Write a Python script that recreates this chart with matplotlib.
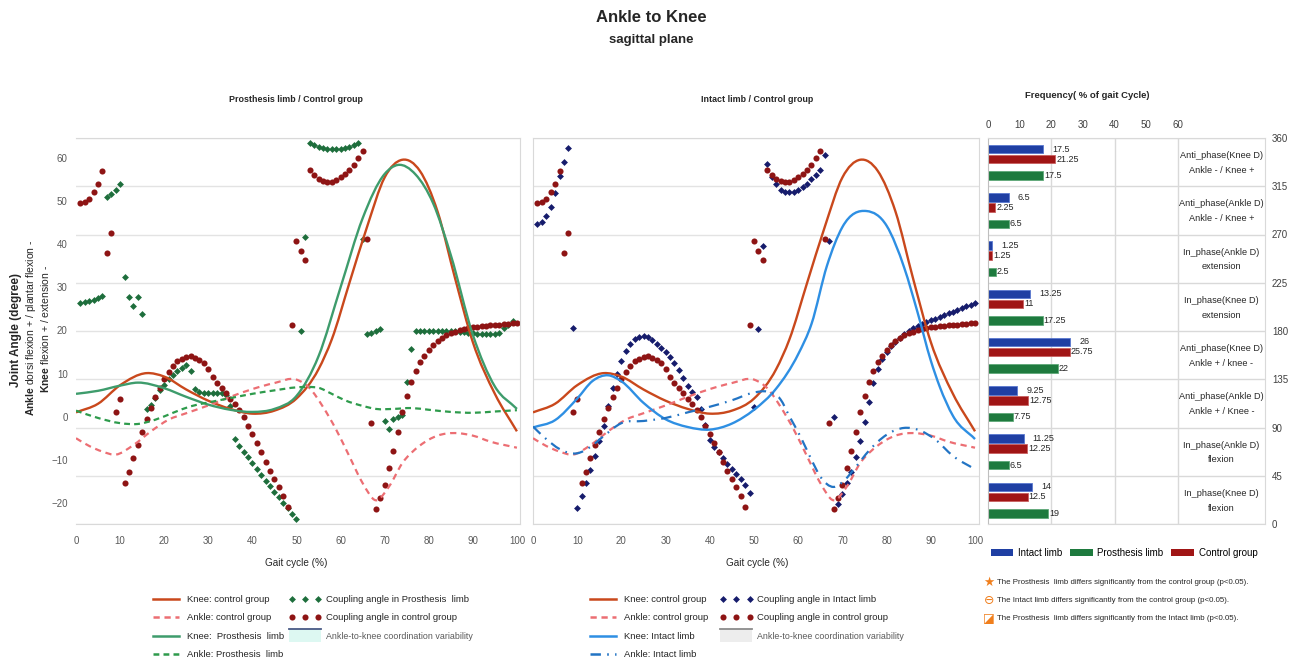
import numpy as np
import matplotlib
matplotlib.use('Agg')
import matplotlib.pyplot as plt
from matplotlib.path import Path
from matplotlib.patches import PathPatch, Patch, Rectangle
from matplotlib.lines import Line2D

plt.rcParams['lines.scale_dashes'] = False
SANS = ['Liberation Sans', 'DejaVu Sans']
plt.rcParams['font.family'] = SANS
plt.rcParams['mathtext.fontset'] = 'custom'
plt.rcParams['mathtext.rm'] = 'Liberation Sans'
plt.rcParams['mathtext.bf'] = 'Liberation Sans:bold'

# ---- joint angle curves (degrees) read at selected % of gait cycle ----
knee_ctrl_x = [0, 5, 10, 16, 20, 25, 30, 35, 40, 45, 50, 55, 58, 62, 66, 70, 74, 78, 82, 86, 90, 95, 100]
knee_ctrl_y = [1.0, 3.0, 7.3, 10.1, 9.3, 6.3, 3.7, 1.8, 0.7, 1.4, 4.2, 11.0, 17.9, 31.0, 44.0, 55.5, 59.6,
               57.0, 47.6, 32.0, 17.3, 5.3, -3.4]
ankle_ctrl_x = [0, 3, 6, 9, 13, 17, 21, 25, 30, 35, 40, 45, 50, 53, 56, 59, 62, 65, 68, 71, 74, 78, 82, 86,
                90, 94, 100]
ankle_ctrl_y = [-5.0, -6.8, -8.1, -8.8, -6.6, -3.4, -0.7, 0.8, 2.6, 4.6, 6.4, 7.8, 8.6, 6.6, 2.3, -3.0, -9.2,
                -15.4, -19.4, -16.2, -10.8, -6.7, -4.4, -3.8, -4.4, -5.8, -7.2]
knee_pros_x = [0, 5, 10, 14, 20, 25, 30, 35, 40, 45, 50, 55, 60, 65, 70, 73, 77, 81, 85, 90, 95, 100]
knee_pros_y = [5.3, 6.0, 7.2, 7.9, 6.6, 4.6, 2.8, 1.6, 1.1, 1.8, 4.8, 14.0, 30.0, 46.0, 56.3, 58.4, 56.2,
               49.5, 37.5, 19.0, 7.0, 1.8]
ankle_pros_x = [0, 5, 10, 14, 18, 22, 26, 30, 35, 40, 45, 50, 53, 55, 58, 61, 65, 68, 72, 76, 80, 85, 90,
                95, 100]
ankle_pros_y = [1.4, -0.3, -1.5, -1.7, -0.7, 0.9, 2.4, 3.3, 4.3, 5.3, 6.1, 6.8, 6.9, 6.7, 5.3, 3.8, 2.5,
                1.8, 1.8, 2.0, 1.6, 1.1, 0.9, 1.2, 1.5]
knee_int_x = [0, 5, 10, 13.5, 17, 20, 25, 30, 35, 40, 45, 50, 55, 60, 63, 66.5, 70, 75.5, 80, 84, 87, 90,
              92, 95, 100]
knee_int_y = [-2.5, -0.8, 4.2, 8.3, 9.6, 8.2, 3.2, -0.6, -2.4, -3.0, -1.6, 1.6, 6.5, 14.5, 21.5, 35.0,
              44.0, 47.7, 44.3, 34.5, 24.2, 13.0, 7.0, 0.2, -5.2]
ankle_int_x = [0, 3, 6, 10, 13, 16, 20, 25, 30, 35, 40, 45, 50, 53, 56, 58, 60.5, 63, 65, 68, 70, 73, 76,
               80, 84, 87, 91, 95, 100]
ankle_int_y = [-2.3, -5.2, -7.5, -8.5, -7.0, -4.5, -1.5, -1.0, -0.3, 1.0, 2.3, 3.8, 5.6, 5.8, 4.0, 0.1,
               -4.6, -10.0, -13.9, -16.3, -15.2, -11.7, -7.9, -4.2, -2.6, -3.0, -5.3, -9.1, -12.2]

# ---- coupling angles (0-360 deg), one value per 1 % of gait cycle ----
coup_ctrl = [299.1, 300.3, 303.5, 309.9, 317.5, 328.8, 252.6, 271.0, 104.6, 116.2,
             38.0, 48.9, 61.7, 73.7, 86.2, 97.8, 108.6, 118.6, 126.7, 135.1,
             141.5, 147.5, 151.9, 154.3, 156.0, 156.3, 155.1, 153.1, 149.9, 144.3,
             137.5, 131.9, 126.7, 121.9, 117.0, 111.8, 106.2, 100.2, 91.8, 83.8,
             75.7, 66.9, 58.1, 49.7, 41.6, 34.4, 26.0, 16.0, 185.6, 264.2,
             254.6, 246.2, 330.0, 325.6, 322.0, 320.0, 318.7, 319.1, 320.8, 323.2,
             326.0, 330.0, 334.8, 341.2, 348.0, 265.4, 93.8, 13.6, 24.0, 36.8,
             52.1, 68.5, 86.2, 104.2, 119.5, 132.7, 142.7, 150.7, 157.1, 162.4,
             166.8, 170.8, 173.6, 176.4, 178.0, 179.2, 180.8, 182.0, 182.8, 183.6,
             184.0, 184.4, 184.8, 185.2, 185.6, 186.0, 186.4, 186.8, 187.2, 187.6]
coup_pros = [206.5, 206.9, 208.1, 209.3, 210.5, 212.5, 304.7, 307.9, 311.5, 317.5,
             230.5, 211.3, 202.9, 211.3, 195.6, 107.4, 111.0, 117.8, 125.1, 129.5,
             135.1, 139.1, 143.1, 145.9, 147.9, 142.7, 125.5, 122.7, 122.3, 122.3,
             122.3, 122.3, 121.9, 120.7, 110.2, 79.7, 72.9, 67.3, 62.1, 56.5,
             50.9, 45.7, 40.0, 35.6, 30.0, 25.6, 20.0, 14.8, 9.2, 4.8,
             180.4, 267.8, 355.6, 353.6, 352.0, 350.8, 350.0, 349.6, 349.6, 350.0,
             350.8, 352.0, 353.6, 355.6, 265.4, 177.2, 178.4, 180.0, 181.6, 96.2,
             88.6, 97.8, 99.4, 101.8, 132.7, 162.8, 180.0, 180.4, 180.4, 180.4,
             180.4, 180.4, 180.4, 180.0, 180.0, 179.6, 179.2, 178.8, 178.4, 178.0,
             177.6, 177.2, 177.2, 177.2, 177.6, 178.4, 182.4, 186.0, 189.6]
coup_int = [279.8, 281.9, 287.1, 295.5, 309.1, 324.8, 338.0, 350.4, 182.4, 14.8,
            26.0, 38.0, 50.1, 63.7, 77.7, 91.0, 109.8, 126.7, 139.5, 152.3,
            161.6, 168.0, 172.4, 174.8, 175.6, 174.8, 171.6, 168.0, 164.0, 160.0,
            155.5, 149.9, 143.9, 135.9, 129.1, 123.5, 118.2, 107.4, 92.6, 78.5,
            72.1, 67.3, 61.3, 56.1, 50.9, 46.5, 42.1, 36.4, 29.2, 109.4,
            181.6, 259.4, 335.6, 324.0, 317.5, 311.5, 309.9, 309.5, 309.9, 311.5,
            314.7, 317.5, 321.6, 325.6, 330.0, 344.0, 264.2, 99.8, 18.8, 28.0,
            38.0, 48.9, 62.1, 77.7, 95.4, 114.2, 131.9, 144.7, 153.5, 160.8,
            165.6, 170.0, 173.6, 177.2, 180.0, 182.4, 184.8, 186.8, 188.4, 190.0,
            191.6, 193.2, 194.8, 196.4, 198.0, 199.6, 201.3, 202.9, 204.5, 206.5]

# ---- frequency bars (% of gait cycle) per coupling-angle bin ----
bin_top = [360, 315, 270, 225, 180, 135, 90, 45]
categories = ['Anti_phase(Knee D)\nAnkle - / Knee +', 'Anti_phase(Ankle D)\nAnkle - / Knee +',
              'In_phase(Ankle D)\nextension', 'In_phase(Knee D)\nextension',
              'Anti_phase(Knee D)\nAnkle + / knee -', 'Anti_phase(Ankle D)\nAnkle + / Knee -',
              'In_phase(Ankle D)\nflexion', 'In_phase(Knee D)\nflexion']
freq_intact = [17.5, 6.5, 1.25, 13.25, 26, 9.25, 11.25, 14]
freq_control = [21.25, 2.25, 1.25, 11, 25.75, 12.75, 12.25, 12.5]
freq_prosthesis = [17.5, 6.5, 2.5, 17.25, 22, 7.75, 6.5, 19]

C_KNEE_CTRL = '#C9481C'
C_ANKLE_CTRL = '#EC6E73'
C_KNEE_PROS = '#3E9C6C'
C_ANKLE_PROS = '#2E9B4C'
C_KNEE_INT = '#2E8FE3'
C_ANKLE_INT = '#2274C4'
C_DOT_PROS = '#1E6E3C'
C_DOT_CTRL = '#8E1414'
C_DOT_INT = '#161C6C'
C_BAR_INT = '#1F3FA3'
C_BAR_PROS = '#1E7A3E'
C_BAR_CTRL = '#A01515'
GRID = '#E3E3E3'
TXT = '#262626'

DASH_CTRL = (0, (4.5, 3.4))
DASH_PROS = (0, (4.2, 3.0))
DASH_INT = (0, (7.5, 4.5, 1.2, 4.5))

W, H = 1301, 665
fig = plt.figure(figsize=(W / 100, H / 100), dpi=100)


def px_axes(x0, y0, x1, y1):
    return fig.add_axes([x0 / W, 1 - y1 / H, (x1 - x0) / W, (y1 - y0) / H])


def ftext(x, y, s, **kw):
    kw.setdefault('ha', 'center')
    kw.setdefault('va', 'center')
    kw.setdefault('color', TXT)
    return fig.text(x / W, 1 - y / H, s, **kw)


def smooth_curve(ax, xs, ys, color, ls='-', lw=1.5):
    # Excel-like smoothed line: cubic Hermite segments as Bezier curves
    xs = np.asarray(xs, float)
    ys = np.asarray(ys, float)
    m = np.gradient(ys, xs)
    verts = [(xs[0], ys[0])]
    codes = [Path.MOVETO]
    for i in range(len(xs) - 1):
        h = xs[i + 1] - xs[i]
        verts += [(xs[i] + h / 3, ys[i] + m[i] * h / 3),
                  (xs[i + 1] - h / 3, ys[i + 1] - m[i + 1] * h / 3),
                  (xs[i + 1], ys[i + 1])]
        codes += [Path.CURVE4] * 3
    ax.add_patch(PathPatch(Path(verts, codes), fill=False, edgecolor=color,
                           lw=lw, linestyle=ls, capstyle='butt'))


def panel(x0, x1, xmax, show_left):
    axc = px_axes(x0, 138, x1, 524)
    axc.set_xlim(0, xmax)
    axc.set_ylim(0, 360)
    axc.set_yticks(np.arange(0, 361, 45))
    axc.yaxis.grid(True, color=GRID, lw=1)
    axc.set_axisbelow(True)
    axc.set_xticks(range(0, 101, 10))
    axc.tick_params(axis='x', length=0, pad=9, labelsize=7, labelcolor='#595959')
    for side in ['top', 'right', 'bottom', 'left']:
        axc.spines[side].set_color('#D9D9D9')
    axc.spines['left'].set_visible(not show_left)
    axj = axc.twinx()
    # twinx puts the y ticks of the coupling axis back on the left; hide them
    axc.tick_params(axis='y', left=False, right=False, labelleft=False, labelright=False)
    axj.set_ylim(-24.9, 64.65)
    axj.yaxis.set_ticks_position('left')
    for s in axj.spines.values():
        s.set_visible(False)
    if show_left:
        axj.set_yticks(range(-20, 61, 10))
        axj.tick_params(axis='y', length=0, pad=6, labelsize=7, labelcolor='#595959')
    else:
        axj.set_yticks([])
    axj.tick_params(axis='y', left=False, right=False)
    return axc, axj


gait = np.arange(1, 101)
DOT_D = dict(ls='none', marker='D', ms=3.5, mew=0)
DOT_O = dict(ls='none', marker='o', ms=4.4, mew=0)

# left panel: prosthesis limb vs control
axc1, axj1 = panel(76, 520, 100.7, True)
axc1.plot(gait[:len(coup_pros)], coup_pros, color=C_DOT_PROS, **DOT_D)
axc1.plot(gait, coup_ctrl, color=C_DOT_CTRL, **DOT_O)
smooth_curve(axj1, knee_ctrl_x, knee_ctrl_y, C_KNEE_CTRL, lw=1.7)
smooth_curve(axj1, ankle_ctrl_x, ankle_ctrl_y, C_ANKLE_CTRL, ls=DASH_CTRL, lw=1.6)
smooth_curve(axj1, knee_pros_x, knee_pros_y, C_KNEE_PROS, lw=1.7)
smooth_curve(axj1, ankle_pros_x, ankle_pros_y, C_ANKLE_PROS, ls=DASH_PROS, lw=1.6)

# middle panel: intact limb vs control
axc2, axj2 = panel(533, 979, 100.9, False)
axc2.plot(gait, coup_int, color=C_DOT_INT, **DOT_D)
axc2.plot(gait, coup_ctrl, color=C_DOT_CTRL, **DOT_O)
smooth_curve(axj2, knee_ctrl_x, knee_ctrl_y, C_KNEE_CTRL, lw=1.7)
smooth_curve(axj2, ankle_ctrl_x, ankle_ctrl_y, C_ANKLE_CTRL, ls=DASH_CTRL, lw=1.6)
smooth_curve(axj2, knee_int_x, knee_int_y, C_KNEE_INT, lw=1.7)
smooth_curve(axj2, ankle_int_x, ankle_int_y, C_ANKLE_INT, ls=DASH_INT, lw=1.6)

# right panel: frequency of coupling patterns
axb = px_axes(988, 138, 1265, 524)
axb.set_xlim(0, 87.5)
axb.set_ylim(0, 360)
axb.xaxis.tick_top()
axb.set_xticks(range(0, 61, 10))
axb.tick_params(axis='x', length=0, pad=6, labelsize=7, labelcolor='#404040')
axb.yaxis.tick_right()
axb.set_yticks(range(0, 361, 45))
axb.tick_params(axis='y', length=0, pad=5, labelsize=7, labelcolor='#404040')
axb.yaxis.grid(True, color='#D9D9D9', lw=1)
for xv in (20, 40, 60):
    axb.axvline(xv, color='#D9D9D9', lw=1, zorder=0)
axb.set_axisbelow(True)
for side in ['top', 'right', 'bottom']:
    axb.spines[side].set_color('#D9D9D9')
axb.spines['left'].set_color('#BFBFBF')

u = 360 / 386.0  # data units per pixel
tops = np.array(bin_top, float)
bar_h = 8.5 * u
for vals, off, col, ec, lab_dx in [(freq_intact, 11, C_BAR_INT, '#5A78CF', 6.5),
                                   (freq_control, 21, C_BAR_CTRL, '#C86060', 0.8),
                                   (freq_prosthesis, 37.5, C_BAR_PROS, '#5FA878', 0.8)]:
    ys = tops - off * u
    axb.barh(ys, vals, height=bar_h, color=col, edgecolor=ec, lw=0.6)
    for v, yv in zip(vals, ys):
        axb.annotate(f'{v:g}', (v, yv), xytext=(lab_dx, 0), textcoords='offset points',
                     ha='left', va='center', fontsize=6.5, color=TXT)
for cat, t in zip(categories, tops):
    axb.text(73.75, t - 25 * u, cat, ha='center', va='center', fontsize=6.6,
             linespacing=1.85, color=TXT)

# titles and axis labels
ftext(651, 18, 'Ankle to Knee', fontsize=12, fontweight='bold')
ftext(651, 40, 'sagittal plane', fontsize=9.5, fontweight='bold')
ftext(296, 100, 'Prosthesis limb / Control group', fontsize=6.4, fontweight='bold')
ftext(757, 100, 'Intact limb / Control group', fontsize=6.4, fontweight='bold')
ftext(1087, 95, 'Frequency( % of gait Cycle)', fontsize=6.8, fontweight='bold')
ftext(296, 563, 'Gait cycle (%)', fontsize=7.2)
ftext(757, 563, 'Gait cycle (%)', fontsize=7.2)
ftext(16, 330, 'Joint Angle (degree)', fontsize=8.5, fontweight='bold', rotation=90)
ftext(31, 328, r'$\mathbf{Ankle}$ dorsi flexion + / plantar flexion -', fontsize=7.5, rotation=90)
ftext(45, 329, r'$\mathbf{Knee}$ flexion + / extension -', fontsize=7.5, rotation=90)


class BandHandler:
    """Legend key for the variability band: shaded box with a line on top."""

    def __init__(self, face, edge):
        self.face, self.edge = face, edge

    def legend_artist(self, legend, orig_handle, fontsize, handlebox):
        x0, y0 = -handlebox.xdescent, -handlebox.ydescent
        w, h = handlebox.width, handlebox.height
        rect = Rectangle((x0, y0 - 0.45 * h), w, 1.9 * h, facecolor=self.face, edgecolor='none',
                         transform=handlebox.get_transform())
        top = Line2D([x0, x0 + w], [y0 + 1.45 * h] * 2, color=self.edge, lw=1.3,
                     transform=handlebox.get_transform())
        handlebox.add_artist(rect)
        handlebox.add_artist(top)
        return rect


def line_legend(x, handles, labels, band, colspace):
    leg = fig.legend(handles, labels, ncol=2, loc='upper left', bbox_to_anchor=(x / W, 1 - 595 / H),
                     frameon=False, fontsize=6.8, handlelength=3.4, handletextpad=0.5,
                     columnspacing=colspace, labelspacing=1.0, numpoints=3, borderpad=0,
                     borderaxespad=0, handler_map={handles[-1]: band})
    for t in leg.get_texts():
        t.set_color(TXT)
    leg.get_texts()[-1].set_color('#595959')
    leg.get_texts()[-1].set_fontsize(6.4)
    return leg


h_kc = Line2D([], [], color=C_KNEE_CTRL, lw=1.8)
h_ac = Line2D([], [], color=C_ANKLE_CTRL, lw=1.8, ls=DASH_CTRL)
h_dc = Line2D([], [], color=C_DOT_CTRL, **DOT_O)
band1 = Patch(facecolor='#DDF8F2')
band2 = Patch(facecolor='#EDEDED')
line_legend(150, [h_kc, h_ac,
                  Line2D([], [], color=C_KNEE_PROS, lw=1.8),
                  Line2D([], [], color=C_ANKLE_PROS, lw=1.8, ls=DASH_PROS),
                  Line2D([], [], color=C_DOT_PROS, **DOT_D),
                  h_dc, band1],
            ['Knee: control group', 'Ankle: control group', 'Knee:  Prosthesis  limb',
             'Ankle: Prosthesis  limb', 'Coupling angle in Prosthesis  limb',
             'Coupling angle in control group', 'Ankle-to-knee coordination variability'],
            BandHandler('#DDF8F2', '#4A5A86'), 0.5)
line_legend(587, [h_kc, h_ac,
                  Line2D([], [], color=C_KNEE_INT, lw=1.8),
                  Line2D([], [], color=C_ANKLE_INT, lw=1.8, ls=DASH_INT),
                  Line2D([], [], color=C_DOT_INT, **DOT_D),
                  h_dc, band2],
            ['Knee: control group', 'Ankle: control group', 'Knee: Intact limb',
             'Ankle: Intact limb', 'Coupling angle in Intact limb',
             'Coupling angle in control group', 'Ankle-to-knee coordination variability'],
            BandHandler('#EDEDED', '#8C8C8C'), 1.3)

# bar legend and significance notes
fig.legend([Patch(facecolor=C_BAR_INT), Patch(facecolor=C_BAR_PROS), Patch(facecolor=C_BAR_CTRL)],
           ['Intact limb', 'Prosthesis limb', 'Control group'], ncol=3, loc='center left',
           bbox_to_anchor=(991 / W, 1 - 553 / H), frameon=False, fontsize=7, handlelength=2.3,
           handleheight=0.7, handletextpad=0.5, columnspacing=0.8, borderpad=0, borderaxespad=0)

notes = ['The Prosthesis  limb differs significantly from the control group (p<0.05).',
         'The Intact limb differs significantly from the control group (p<0.05).',
         'The Prosthesis  limb differs significantly from the Intact limb (p<0.05).']
symbols = ['\u2605', '\u2296', '\u25EA']
for i, (sym, note) in enumerate(zip(symbols, notes)):
    y = 582 + 18 * i
    ftext(989, y, sym, family=['DejaVu Sans'], fontsize=9, color='#F07F1D')
    ftext(997, y, note, ha='left', fontsize=5.7)

fig.savefig('out.png', dpi=100, facecolor='white')
